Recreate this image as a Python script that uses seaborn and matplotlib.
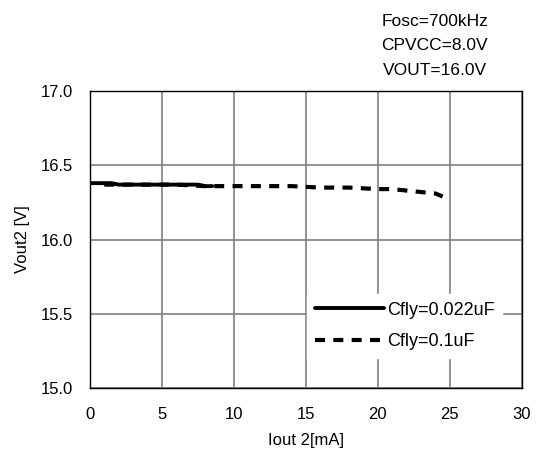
import pandas as pd
import numpy as np
import matplotlib.pyplot as plt
import seaborn as sns

# Cfly=0.022uF
iout_a = [0.0, 0.5, 1.0, 1.5, 2.0, 3.0, 4.0, 5.0, 6.0, 7.0, 7.5, 8.0, 8.5]
vout_a = [16.38, 16.38, 16.38, 16.38, 16.37, 16.37, 16.37, 16.37, 16.37, 16.37, 16.37, 16.36, 16.36]
# Cfly=0.1uF
iout_b = [1.0, 2.0, 4.0, 6.0, 8.0, 10.0, 12.0, 14.0, 16.0, 18.0, 20.0, 21.0, 22.0, 23.0, 24.0, 24.5]
vout_b = [16.37, 16.37, 16.37, 16.37, 16.36, 16.36, 16.36, 16.36, 16.35, 16.35, 16.34, 16.34, 16.33, 16.32, 16.31, 16.29]

sns.set_style('white')
plt.rcParams['font.family'] = ['Liberation Sans', 'DejaVu Sans']
plt.rcParams['text.color'] = 'black'
plt.rcParams['axes.labelcolor'] = 'black'
plt.rcParams['xtick.color'] = 'black'
plt.rcParams['ytick.color'] = 'black'

fig = plt.figure(figsize=(5.38, 4.58), dpi=100)
ax = fig.add_axes([0.167, 0.153, 0.803, 0.648])

sns.lineplot(x=iout_a, y=vout_a, color='black', lw=2.8, ax=ax, label='Cfly=0.022uF')
sns.lineplot(x=iout_b, y=vout_b, color='black', lw=3, ax=ax, label='Cfly=0.1uF')
ax.lines[1].set_dashes([2.4, 2.0])

ax.set_xlim(0, 30)
ax.set_ylim(15.0, 17.0)
ax.set_xticks(np.arange(0, 31, 5))
ax.set_yticks(np.arange(15.0, 17.01, 0.5))
ax.set_yticklabels([f'{v:.1f}' for v in np.arange(15.0, 17.01, 0.5)])
ax.grid(True, color='#808080', lw=1.2)
for s in ax.spines.values():
    s.set_color('black')
    s.set_linewidth(1)
ax.tick_params(labelsize=12, length=0, labelcolor='black')
ax.tick_params(axis='x', pad=14)
ax.tick_params(axis='y', pad=12)
ax.set_xlabel('Iout 2[mA]', fontsize=12, labelpad=8, color='black')
ax.set_ylabel('Vout2 [V]', fontsize=12, labelpad=8, color='black')

leg = ax.legend(loc='lower right', bbox_to_anchor=(0.955, 0.1), frameon=True, fontsize=13,
                handlelength=3.8, handletextpad=0.15, borderpad=0.45, labelspacing=0.8,
                borderaxespad=0)
leg.get_frame().set_edgecolor('white')
leg.get_frame().set_facecolor('white')
leg.get_frame().set_alpha(1)
leg.get_frame().set_boxstyle('square', pad=0)
for t in leg.get_texts():
    t.set_color('black')

fig.text(0.808, 0.954, 'Fosc=700kHz', fontsize=12.5, ha='center', va='center', color='black')
fig.text(0.808, 0.900, 'CPVCC=8.0V', fontsize=12.5, ha='center', va='center', color='black')
fig.text(0.808, 0.845, 'VOUT=16.0V', fontsize=12.5, ha='center', va='center', color='black')

fig.savefig('out.png', dpi=100)
